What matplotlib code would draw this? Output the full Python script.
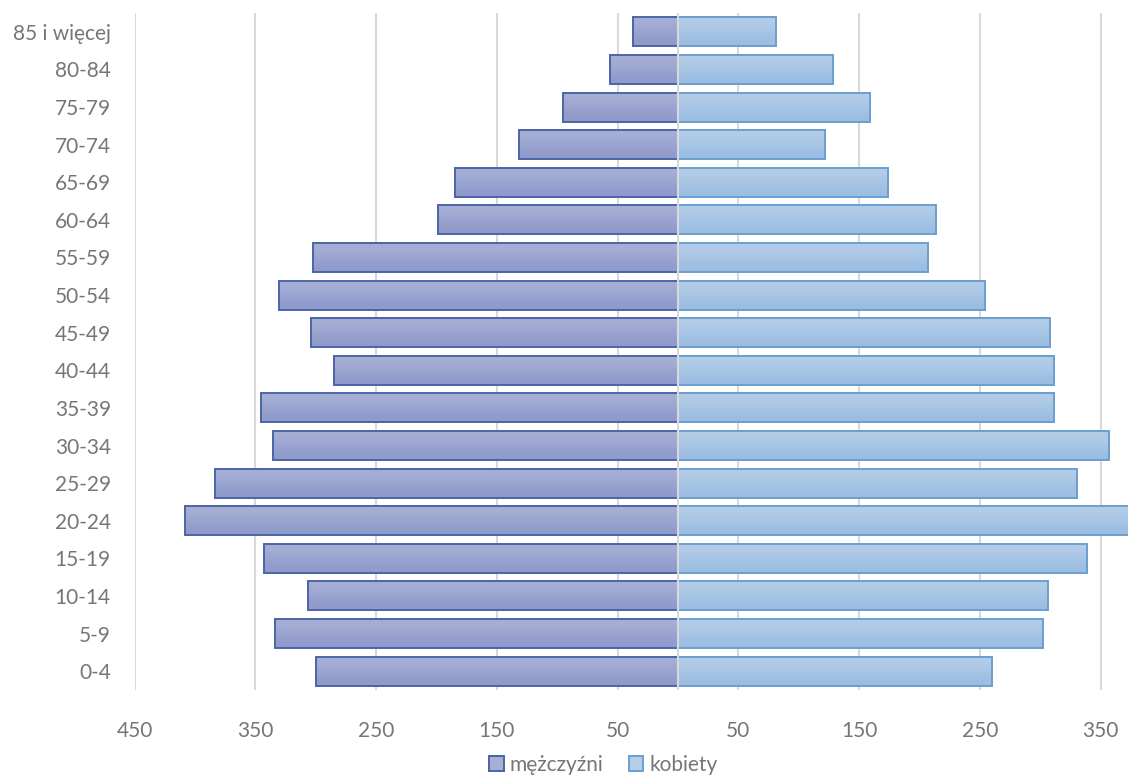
import numpy as np
import matplotlib
matplotlib.use("Agg")
import matplotlib.pyplot as plt
from matplotlib.colors import LinearSegmentedColormap
from matplotlib.patches import Patch

plt.rcParams['font.family'] = ['Lato', 'DejaVu Sans']

# age groups from bottom to top
groups = ['0-4', '5-9', '10-14', '15-19', '20-24', '25-29', '30-34', '35-39',
          '40-44', '45-49', '50-54', '55-59', '60-64', '65-69', '70-74',
          '75-79', '80-84', '85 i więcej']
men = [300, 334, 306, 343, 408, 383, 335, 345, 285, 304, 330, 302, 199, 185,
       132, 95, 56, 37]
women = [260, 302, 306, 339, 395, 330, 357, 311, 311, 308, 254, 207, 214, 174,
         122, 159, 128, 81]
ticks = [-450, -350, -250, -150, -50, 50, 150, 250, 350]

series = [
    ('mężczyźni', -np.array(men), '#8e9acb', '#a7afd4', '#4a64a8'),
    ('kobiety', np.array(women), '#9bbde2', '#b4cde8', '#6a9fd0'),
]

fig = plt.figure(figsize=(11.28, 7.77), dpi=100)
ax = fig.add_axes([134.5 / 1128, 1 - 690 / 777, 1 - 134.5 / 1128, 677 / 777])

y = np.arange(len(groups))
h = 0.77
grad = np.array([[0.0], [1.0]])
handles = []
for name, vals, dark, light, edge in series:
    cmap = LinearSegmentedColormap.from_list(name, [dark, light])
    bars = ax.barh(y, vals, height=h, facecolor='none', edgecolor=edge,
                   linewidth=1.4, zorder=3)
    for p in bars.patches:
        x0, y0 = p.get_x(), p.get_y()
        x1 = x0 + p.get_width()
        im = ax.imshow(grad, extent=[min(x0, x1), max(x0, x1), y0, y0 + h],
                       origin='lower', aspect='auto', cmap=cmap, zorder=2,
                       interpolation='bicubic')
        im.set_clip_path(p)
    handles.append(Patch(facecolor=light, edgecolor=edge, linewidth=1.4,
                         label=name))

ax.set_xlim(-450, 372.6)
ax.set_ylim(-0.5, len(groups) - 0.5)
ax.set_xticks(ticks)
ax.set_xticklabels([str(abs(t)) for t in ticks])
ax.set_yticks(y)
ax.set_yticklabels(groups)
ax.tick_params(axis='both', length=0, labelsize=15, colors='#767676')
ax.tick_params(axis='x', pad=22)
ax.tick_params(axis='y', pad=17)
ax.grid(axis='x', color='#d9d9d9', linewidth=1.5, zorder=0)
ax.set_axisbelow(True)
ax.axvline(0, color='#d9d9d9', linewidth=1.5, zorder=4)
for s in ax.spines.values():
    s.set_visible(False)

fig.legend(handles=handles, loc='center', bbox_to_anchor=(0.535, 0.016),
           ncol=2, frameon=False, fontsize=15, handlelength=0.7,
           handleheight=0.7, handletextpad=0.3, columnspacing=1.2,
           labelcolor='#767676')

fig.savefig('out.png', dpi=100)
